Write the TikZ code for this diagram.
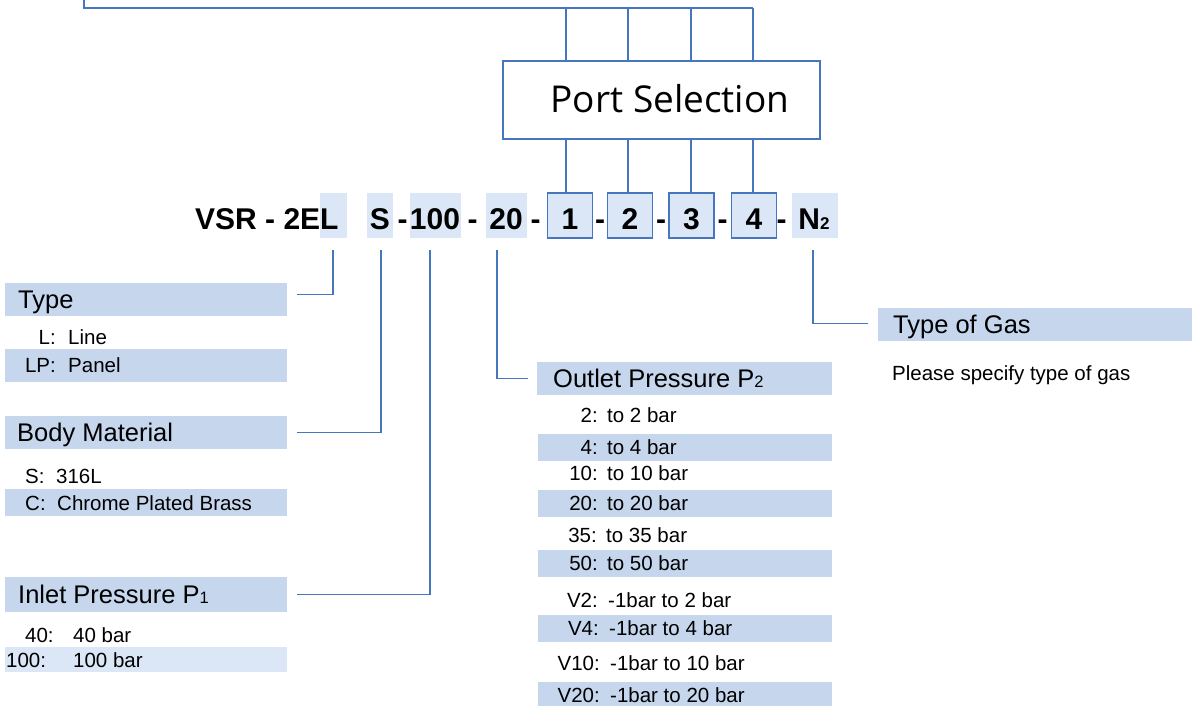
\documentclass[tikz,border=0pt]{standalone}
\usepackage{fontspec}
\setmainfont{Liberation Sans}
\newfontfamily\psfont{Open Sans}
\definecolor{lineblue}{RGB}{70,118,190}
\definecolor{hdark}{RGB}{197,214,237}
\definecolor{hlight}{RGB}{219,231,246}
\newcommand{\smallsub}[1]{{\fontsize{16.5}{18}\selectfont #1}}
\newcommand{\codesub}[1]{{\fontsize{17}{18}\selectfont\bfseries #1}}
\begin{document}
\begin{tikzpicture}[x=1pt,y=-1pt,
  ln/.style={draw=lineblue, line width=1.4pt},
  hbar/.style={fill=hdark, draw=none, inner sep=0pt, anchor=north west, minimum width=282pt, minimum height=33pt},
  lbar/.style={fill=hlight, draw=none, inner sep=0pt, anchor=north west, minimum height=45pt},
  htxt/.style={font=\fontsize{25.5}{30}\selectfont, inner sep=0pt, text height=18.3pt, text depth=0pt, anchor=west},
  itxt/.style={font=\fontsize{20.5}{24}\selectfont, inner sep=0pt, text height=14.7pt, text depth=0pt, anchor=west},
  ilab/.style={itxt, anchor=east},
  ctxt/.style={font=\bfseries\fontsize{30}{36}\selectfont, inner sep=0pt, text height=21.5pt, text depth=0pt},
  codebox/.style={draw=lineblue, fill=hlight, line width=1.2pt, minimum width=45pt, minimum height=45pt, inner sep=0pt}
]
\useasboundingbox (0,0) rectangle (1192,706);

% ---- Port selection box
\node[draw=lineblue, line width=1.4pt, minimum width=317pt, minimum height=78pt, inner sep=0pt] (ps) at (661.5,100) {};
\node[font=\psfont\fontsize{37}{42}\selectfont, inner sep=0pt, text height=26.4pt, text depth=0pt] (pst) at (670,99) {Port Selection};

% ---- code row highlights
\node[lbar, minimum width=27pt] (hL) at (320,193) {};
\node[lbar, minimum width=26pt] (hS) at (367,193) {};
\node[lbar, minimum width=51pt] (h100) at (410,193) {};
\node[lbar, minimum width=41pt] (h20) at (486,193) {};
\node[lbar, minimum width=46pt] (hN) at (792,193) {};
\node[codebox] (b1) at (570,215.5) {};
\node[codebox] (b2) at (630,215.5) {};
\node[codebox] (b3) at (691.5,215.5) {};
\node[codebox] (b4) at (754,215.5) {};

% ---- code row texts
\node[ctxt, anchor=west] (vsr) at (195,219) {VSR - 2EL};
\node[ctxt] (cS) at (380,219) {S};
\node[ctxt] (d1) at (402.5,219) {-};
\node[ctxt] (c100) at (435,219) {100};
\node[ctxt] (d2) at (472.5,219) {-};
\node[ctxt] (c20) at (506,219) {20};
\node[ctxt] (d3) at (535.5,219) {-};
\node[ctxt] (c1) at (570,219) {1};
\node[ctxt] (d4) at (600,219) {-};
\node[ctxt] (c2) at (630,219) {2};
\node[ctxt] (d5) at (661,219) {-};
\node[ctxt] (c3) at (691.5,219) {3};
\node[ctxt] (d6) at (722.5,219) {-};
\node[ctxt] (c4) at (754,219) {4};
\node[ctxt] (d7) at (781.5,219) {-};
\node[ctxt] (cN) at (814,219) {N\codesub{2}};

% ---- port connectors
\coordinate (t0) at (84,0);
\coordinate (t1) at (84,8);
\coordinate (p1) at (566,8);
\coordinate (p2) at (628,8);
\coordinate (p3) at (691,8);
\coordinate (p4) at (753,8);
\draw[ln] (t0) -- (t1) -- (p4);
\foreach \p/\b in {p1/b1,p2/b2,p3/b3,p4/b4}{
  \draw[ln] (\p) -- (\p |- ps.north);
  \draw[ln] (\p |- ps.south) -- (\p |- \b.north);
}

% ---- Type
\node[hbar] (type) at (5,283) {};
\node[htxt] (typet) at (18,299.5) {Type};
\node[ilab] (tl1) at (56,337) {L:};
\node[itxt] (tl2) at (68,337) {Line};
\node[hbar] (tlp) at (5,349) {};
\node[ilab] (tlp1) at (56,365.5) {LP:};
\node[itxt] (tlp2) at (68,365.5) {Panel};

% ---- Body material
\node[hbar] (body) at (5,416) {};
\node[htxt] (bodyt) at (17,432.5) {Body Material};
\node[itxt] (bs1) at (25,476) {S:};
\node[itxt] (bs2) at (56,476) {316L};
\node[hbar, minimum height=27pt] (bc) at (5,489) {};
\node[itxt] (bc1) at (25,503) {C:};
\node[itxt] (bc2) at (57,503) {Chrome Plated Brass};

% ---- Inlet pressure
\node[hbar, minimum height=35pt] (inlet) at (5,577) {};
\node[htxt] (inlett) at (18,594.5) {Inlet Pressure P\smallsub{1}};
\node[itxt] (i1) at (25,635) {40:};
\node[itxt] (i2) at (73,635) {40 bar};
\node[hbar, fill=hlight, minimum height=25pt] (i100) at (5,647) {};
\node[itxt] (i3) at (6,660) {100:};
\node[itxt] (i4) at (73,660) {100 bar};

% ---- Outlet pressure
\node[hbar, minimum width=295pt] (outlet) at (537,362) {};
\node[htxt] (outlett) at (553,378.5) {Outlet Pressure P\smallsub{2}};
\node[ilab] (o1a) at (598,415) {2:};
\node[itxt] (o1b) at (607,415) {to 2 bar};
\node[hbar, minimum width=294pt, minimum height=27pt] (o2) at (538,434) {};
\node[ilab] (o2a) at (598,447.5) {4:};
\node[itxt] (o2b) at (607,447.5) {to 4 bar};
\node[ilab] (o3a) at (598,473.5) {10:};
\node[itxt] (o3b) at (607,473.5) {to 10 bar};
\node[hbar, minimum width=294pt, minimum height=27pt] (o4) at (538,490) {};
\node[ilab] (o4a) at (598,503.5) {20:};
\node[itxt] (o4b) at (607,503.5) {to 20 bar};
\node[ilab] (o5a) at (597,535) {35:};
\node[itxt] (o5b) at (606,535) {to 35 bar};
\node[hbar, minimum width=294pt, minimum height=27pt] (o6) at (538,550) {};
\node[ilab] (o6a) at (598,563.5) {50:};
\node[itxt] (o6b) at (607,563.5) {to 50 bar};
\node[ilab] (o7a) at (598,600) {V2:};
\node[itxt] (o7b) at (608,600) {-1bar to 2 bar};
\node[hbar, minimum width=294pt, minimum height=27pt] (o8) at (538,615) {};
\node[ilab] (o8a) at (599,628.5) {V4:};
\node[itxt] (o8b) at (609,628.5) {-1bar to 4 bar};
\node[ilab] (o9a) at (600,663.5) {V10:};
\node[itxt] (o9b) at (610,663.5) {-1bar to 10 bar};
\node[hbar, minimum width=294pt, minimum height=24pt] (o10) at (538,682) {};
\node[ilab] (o10a) at (600,695) {V20:};
\node[itxt] (o10b) at (610,695) {-1bar to 20 bar};

% ---- Type of gas
\node[hbar, minimum width=314pt] (gas) at (878,308) {};
\node[htxt] (gast) at (893,324.5) {Type of Gas};
\node[itxt] (gasp) at (892,373) {Please specify type of gas};

% ---- code connectors
\coordinate (xL) at (333,250);
\coordinate (xS) at (381,250);
\coordinate (x100) at (430,250);
\coordinate (x20) at (497,250);
\coordinate (xN) at (813,250);
\draw[ln] (xL) |- ([xshift=10pt,yshift=5.5pt]type.east);
\draw[ln] (xS) |- ([xshift=10pt]body.east);
\draw[ln] (x100) |- ([xshift=10pt]inlet.east);
\draw[ln] (x20) |- ([xshift=-9pt]outlet.west);
\draw[ln] (xN) |- ([xshift=-10pt,yshift=1.5pt]gas.west);
\end{tikzpicture}
\end{document}
